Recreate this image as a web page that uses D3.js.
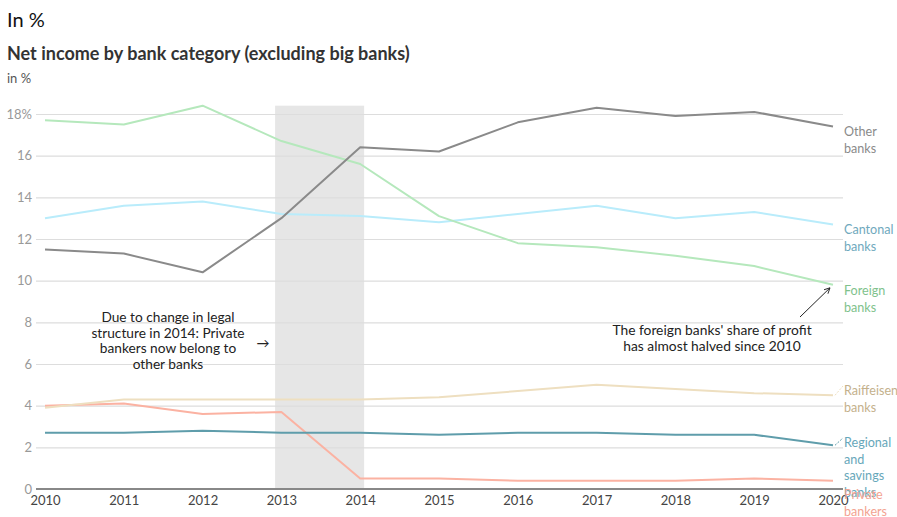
<!DOCTYPE html>
<html>
<head>
<meta charset="utf-8">
<script src="https://cdn.jsdelivr.net/npm/d3@7"></script>
<style>
  html, body { margin: 0; padding: 0; background: #fff; }
  svg { display: block; font-family: Lato, "Noto Sans", sans-serif; }
</style>
</head>
<body>
<svg id="chart" width="897" height="517"></svg>
<script>
// Net income share by bank category, 2010–2020 (in %)
const years = [2010, 2011, 2012, 2013, 2014, 2015, 2016, 2017, 2018, 2019, 2020];
const otherBanks     = [11.5, 11.3, 10.4, 13.0, 16.4, 16.2, 17.6, 18.3, 17.9, 18.1, 17.4];
const foreignBanks   = [17.7, 17.5, 18.4, 16.7, 15.6, 13.1, 11.8, 11.6, 11.2, 10.7, 9.8];
const cantonalBanks  = [13.0, 13.6, 13.8, 13.2, 13.1, 12.8, 13.2, 13.6, 13.0, 13.3, 12.7];
const raiffeisen     = [3.9, 4.3, 4.3, 4.3, 4.3, 4.4, 4.7, 5.0, 4.8, 4.6, 4.5];
const regional       = [2.7, 2.7, 2.8, 2.7, 2.7, 2.6, 2.7, 2.7, 2.6, 2.6, 2.1];
const privateBankers = [4.0, 4.1, 3.6, 3.7, 0.5, 0.5, 0.4, 0.4, 0.4, 0.5, 0.4];
const yTicks = [0, 2, 4, 6, 8, 10, 12, 14, 16, 18];
const highlightPeriod = [2012.92, 2014.05];

const series = [
  { name: ["Other", "banks"], values: otherBanks, color: "#8a8a8a", text: "#8a8a8a", labelY: 136, leader: false },
  { name: ["Cantonal", "banks"], values: cantonalBanks, color: "#b9ecfb", text: "#6fa9bd", labelY: 234, leader: false },
  { name: ["Foreign", "banks"], values: foreignBanks, color: "#b5e8bc", text: "#80c28c", labelY: 295, leader: false },
  { name: ["Raiffeisen", "banks"], values: raiffeisen, color: "#eedfc0", text: "#c4b18c", labelY: 395, leader: true },
  { name: ["Regional", "and", "savings", "banks"], values: regional, color: "#5f9dab", text: "#67a7ba", labelY: 447, leader: true },
  { name: ["Private", "bankers"], values: privateBankers, color: "#fbb2a2", text: "#f3a391", labelY: 499, leader: false }
];

const svg = d3.select("#chart");
const x = d3.scaleLinear().domain([2010, 2020]).range([45, 833]);
const y = d3.scaleLinear().domain([0, 18]).range([489, 114]);
const gridLeft = 36, gridRight = 843;

// Titles
svg.append("text").attr("x", 7).attr("y", 27).attr("font-size", 20).attr("fill", "#111").text("In %");
svg.append("text").attr("x", 7).attr("y", 60).attr("font-size", 18).attr("font-weight", 700)
  .attr("fill", "#333").text("Net income by bank category (excluding big banks)");
svg.append("text").attr("x", 7).attr("y", 83).attr("font-size", 13).attr("fill", "#555").text("in %");

// Highlighted period
const maxVal = d3.max([otherBanks, foreignBanks, cantonalBanks].flat());
svg.append("rect")
  .attr("x", x(highlightPeriod[0]))
  .attr("width", x(highlightPeriod[1]) - x(highlightPeriod[0]))
  .attr("y", y(maxVal))
  .attr("height", y(0) - y(maxVal))
  .attr("fill", "#e6e6e6");

// Y gridlines and labels
const yAxis = d3.axisLeft(y).tickValues(yTicks)
  .tickSize(gridLeft - gridRight)
  .tickFormat(d => d === 18 ? "18%" : d);
const gy = svg.append("g").attr("transform", `translate(${gridLeft},0)`).call(yAxis);
gy.select(".domain").remove();
gy.selectAll(".tick line").attr("stroke", "#dddddd").attr("stroke-width", 1.2);
gy.selectAll(".tick text").attr("x", -4).attr("font-size", 13).attr("fill", "#999")
  .attr("font-family", "Lato, sans-serif");

// X axis
const xAxis = d3.axisBottom(x).tickValues(years).tickFormat(d3.format("d")).tickSize(0).tickPadding(7);
const gx = svg.append("g").attr("transform", `translate(0,${y(0)})`).call(xAxis);
gx.select(".domain").remove();
gx.selectAll(".tick text").attr("font-size", 13).attr("fill", "#444").attr("font-family", "Lato, sans-serif");
svg.append("line").attr("x1", gridLeft).attr("x2", gridRight).attr("y1", y(0)).attr("y2", y(0))
  .attr("stroke", "#888").attr("stroke-width", 2);

// Lines
const line = d3.line().x((d, i) => x(years[i])).y(d => y(d));
const drawOrder = [5, 4, 3, 1, 2, 0];
drawOrder.forEach(i => {
  const s = series[i];
  svg.append("path").datum(s.values).attr("d", line)
    .attr("fill", "none").attr("stroke", s.color).attr("stroke-width", 2)
    .attr("stroke-linejoin", "round");
});

// Series labels with short leaders where the label sits off the line end
series.forEach(s => {
  if (s.leader) {
    svg.append("line")
      .attr("x1", x(2020) + 2).attr("y1", y(s.values[s.values.length - 1]))
      .attr("x2", 843).attr("y2", s.labelY - 9)
      .attr("stroke", s.color).attr("stroke-width", 1).attr("stroke-dasharray", "2,1.5");
  }
  const t = svg.append("text").attr("x", 844).attr("y", s.labelY).attr("font-size", 12.6).attr("fill", s.text);
  s.name.forEach((w, k) => t.append("tspan").attr("x", 844).attr("dy", k === 0 ? 0 : 16.7).text(w));
});

// Annotation: legal structure change
const note1 = ["Due to change in legal", "structure in 2014: Private", "bankers now belong to", "other banks"];
const t1 = svg.append("text").attr("x", 168).attr("y", 322).attr("font-size", 13.7).attr("fill", "#222")
  .attr("text-anchor", "middle");
note1.forEach((w, k) => t1.append("tspan").attr("x", 168).attr("dy", k === 0 ? 0 : 15.6).text(w));
svg.append("text").attr("x", 263).attr("y", 348).attr("font-size", 13).attr("fill", "#222")
  .attr("text-anchor", "middle").text("→");

// Annotation: foreign banks
const note2 = ["The foreign banks' share of profit", "has almost halved since 2010"];
const t2 = svg.append("text").attr("x", 712).attr("y", 335).attr("font-size", 13.8).attr("fill", "#222")
  .attr("text-anchor", "middle");
note2.forEach((w, k) => t2.append("tspan").attr("x", 712).attr("dy", k === 0 ? 0 : 15.6).text(w));

svg.append("defs").append("marker").attr("id", "arrow").attr("viewBox", "0 0 10 10")
  .attr("refX", 9).attr("refY", 5).attr("markerWidth", 7).attr("markerHeight", 7).attr("orient", "auto")
  .append("path").attr("d", "M1,1 L9,5 L1,9").attr("fill", "none").attr("stroke", "#222").attr("stroke-width", 1.3);
svg.append("line").attr("x1", 800).attr("y1", 317).attr("x2", x(2020) - 3).attr("y2", y(foreignBanks[10]) + 3)
  .attr("stroke", "#222").attr("stroke-width", 1).attr("marker-end", "url(#arrow)");
</script>
</body>
</html>
